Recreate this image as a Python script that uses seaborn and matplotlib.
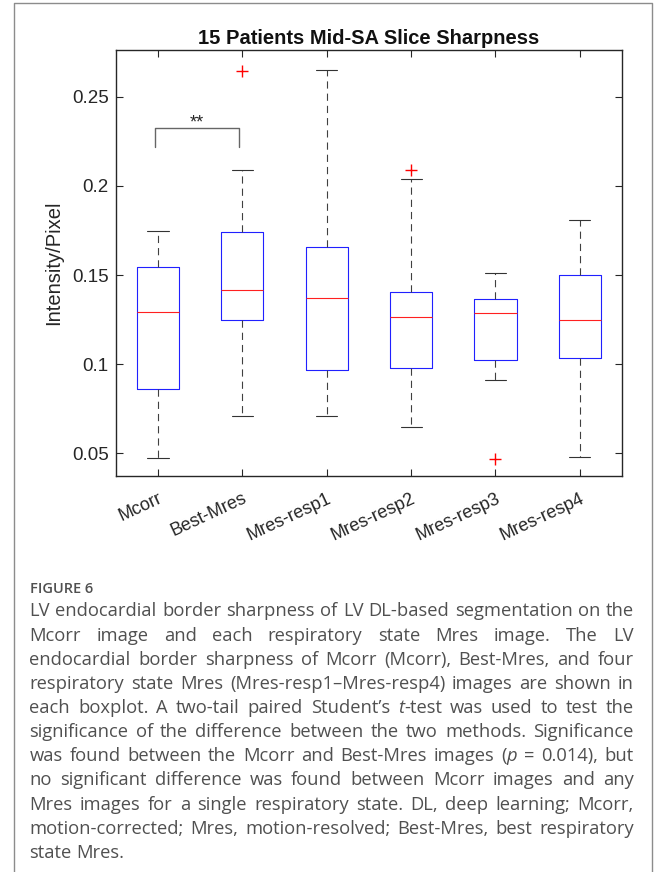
import numpy as np
import pandas as pd
import matplotlib
matplotlib.use('Agg')
import matplotlib.pyplot as plt
import seaborn as sns
from matplotlib.lines import Line2D

# five-number summaries (Intensity/Pixel)
groups = ['Mcorr', 'Best-Mres', 'Mres-resp1', 'Mres-resp2', 'Mres-resp3', 'Mres-resp4']
whisker_low = [0.0474, 0.0710, 0.0710, 0.0650, 0.0910, 0.0478]
q1 = [0.0861, 0.1249, 0.0968, 0.0981, 0.1022, 0.1032]
median = [0.1290, 0.1415, 0.1369, 0.1265, 0.1286, 0.1247]
q3 = [0.1543, 0.1741, 0.1658, 0.1406, 0.1365, 0.1503]
whisker_high = [0.1748, 0.2089, 0.2648, 0.2038, 0.1509, 0.1810]

outlier_group = ['Best-Mres', 'Mres-resp2', 'Mres-resp3']
outlier_value = [0.2646, 0.2089, 0.0471]

ytick_values = [0.05, 0.1, 0.15, 0.2, 0.25]
ytick_labels = ['0.05', '0.1', '0.15', '0.2', '0.25']

# significance bracket between Mcorr and Best-Mres
sig_pair = ['Mcorr', 'Best-Mres']
sig_label = '**'
sig_top = 0.2323
sig_foot = 0.2219

title = '15 Patients Mid-SA Slice Sharpness'
ylabel = 'Intensity/Pixel'

caption_head = 'FIGURE 6'
caption_lines = [
    [('LV endocardial border sharpness of LV DL-based segmentation on the', False)],
    [('Mcorr image and each respiratory state Mres image. The LV', False)],
    [('endocardial border sharpness of Mcorr (Mcorr), Best-Mres, and four', False)],
    [('respiratory state Mres (Mres-resp1\u2013Mres-resp4) images are shown in', False)],
    [('each boxplot. A two-tail paired Student\u2019s ', False), ('t', True), ('-test was used to test the', False)],
    [('significance of the difference between the two methods. Significance', False)],
    [('was found between the Mcorr and Best-Mres images (', False), ('p', True), (' = 0.014), but', False)],
    [('no significant difference was found between Mcorr images and any', False)],
    [('Mres images for a single respiratory state. DL, deep learning; Mcorr,', False)],
    [('motion-corrected; Mres, motion-resolved; Best-Mres, best respiratory', False)],
    [('state Mres.', False)],
]

# summaries -> long table (5 points per group keep quartiles exact)
rows = []
for i, g in enumerate(groups):
    for v in [whisker_low[i], q1[i], median[i], q3[i], whisker_high[i]]:
        rows.append({'group': g, 'value': v})
df = pd.DataFrame(rows)
out_df = pd.DataFrame({'group': outlier_group, 'value': outlier_value})

sns.set_style('ticks')
plt.rcParams['font.family'] = ['Liberation Sans', 'DejaVu Sans']

W, H = 658, 872
fig = plt.figure(figsize=(W / 100, H / 100), dpi=100)
ax = fig.add_axes([115.8 / W, 1 - 476 / H, (622 - 115.8) / W, (476 - 50) / H])

dash = (0, (6.5, 4.5))
sns.boxplot(data=df, x='group', y='value', order=groups, whis=(0, 100), width=0.5,
            fill=False, showfliers=False, linewidth=0.8, ax=ax,
            boxprops=dict(color='#2020ff'),
            medianprops=dict(color='#ff2020'),
            whiskerprops=dict(color='#404040', linestyle=dash),
            capprops=dict(color='#333333'))

sns.stripplot(data=out_df, x='group', y='value', order=groups, jitter=False,
              marker='+', color='red', size=8, linewidth=1.0, ax=ax)

# bracket
xa = groups.index(sig_pair[0]) - 0.04
xb = groups.index(sig_pair[1]) - 0.04
ax.plot([xa, xa, xb, xb], [sig_foot, sig_top, sig_top, sig_foot], color='#666666', lw=1.0)
ax.text((xa + xb) / 2, sig_top + 0.0004, sig_label, ha='center', va='baseline', fontsize=13)

ax.set_xlim(-0.5, len(groups) - 0.5)
ax.set_ylim(0.0373, 0.2762)
ax.set_yticks(ytick_values)
ax.set_yticklabels(ytick_labels)
ax.set_xticks(range(len(groups)))
ax.set_xticklabels(groups, rotation=25, ha='right', va='top', rotation_mode='anchor')
ax.tick_params(direction='in', top=True, right=True, length=5, width=0.8,
               colors='#262626', labelsize=13.5, pad=5)
ax.tick_params(axis='x', labelsize=13, pad=10)
ax.set_xlabel('')
ax.set_ylabel(ylabel, fontsize=14.5, color='#262626')
ax.yaxis.set_label_coords(-0.104, 0.5)
ax.set_title(title, fontsize=14.5, fontweight='bold', pad=4, color='#111111')
for s in ax.spines.values():
    s.set_linewidth(1.0)
    s.set_color('#262626')

# panel frame (open at the bottom)
fx0, fx1, fy = 13.5 / W, 652 / W, 1 - 3.5 / H
fig.add_artist(Line2D([fx0, fx0, fx1, fx1], [0, fy, fy, 0], color='#8c8c8c', lw=1.0,
                      transform=fig.transFigure))

# caption (justified by hand)
cap_font = dict(family=['Open Sans', 'DejaVu Sans'], color='#505050')
fig.text(29.5 / W, 1 - 593 / H, caption_head, fontsize=10.5, fontweight='semibold',
         va='baseline', ha='left', **cap_font)

renderer = fig.canvas.get_renderer()


def piece_width(text, italic, size):
    t = fig.text(0, 0, text, fontsize=size, style='italic' if italic else 'normal', **cap_font)
    w = t.get_window_extent(renderer).width
    t.remove()
    return w


def split_words(segments):
    words = []
    cur = []
    for text, italic in segments:
        parts = text.split(' ')
        for j, p in enumerate(parts):
            if j > 0:
                if cur:
                    words.append(cur)
                cur = []
            if p:
                cur.append((p, italic))
    if cur:
        words.append(cur)
    return words


left_px, right_px = 29.5, 633.7

# pick the size so the longest line just fills the column
natural = max(sum(piece_width(t, it, 12) for t, it in segs) for segs in caption_lines[:-1])
cap_size = 12 * (right_px - left_px) * 0.985 / natural

space_w = piece_width('a a', False, cap_size) - piece_width('aa', False, cap_size)
for li, segs in enumerate(caption_lines):
    words = split_words(segs)
    widths = [[piece_width(p, it, cap_size) for p, it in w] for w in words]
    total = sum(sum(w) for w in widths)
    last = li == len(caption_lines) - 1
    gap = space_w if (last or len(words) < 2) else (right_px - left_px - total) / (len(words) - 1)
    x = left_px
    y = 1 - (616.5 + li * 24.13) / H
    for w, ws in zip(words, widths):
        for (p, it), pw in zip(w, ws):
            fig.text(x / W, y, p, fontsize=cap_size, style='italic' if it else 'normal',
                     va='baseline', ha='left', **cap_font)
            x += pw
        x += gap

fig.savefig('out.png', dpi=100)
